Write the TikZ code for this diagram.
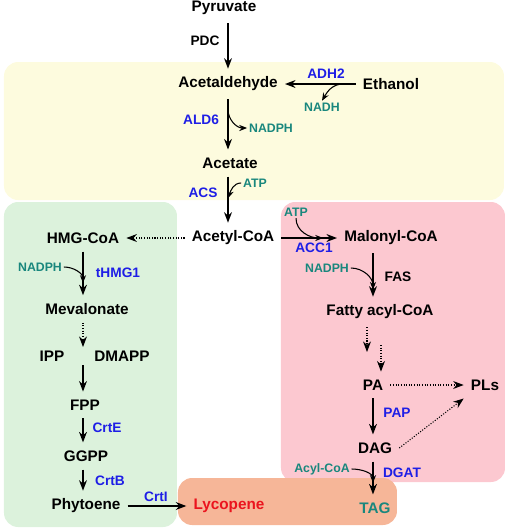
\documentclass[tikz,border=0pt]{standalone}
\usepackage{fontspec}
\setmainfont{Liberation Sans}
\usetikzlibrary{arrows.meta}
\definecolor{enzblue}{RGB}{30,30,230}
\definecolor{cofteal}{RGB}{25,135,125}
\definecolor{boxyellow}{RGB}{253,251,222}
\definecolor{boxgreen}{RGB}{220,242,220}
\definecolor{boxpink}{RGB}{252,200,208}
\definecolor{boxorange}{RGB}{246,182,152}
\definecolor{lycred}{RGB}{235,20,30}

\begin{document}
\begin{tikzpicture}[x=0.02cm,y=-0.02cm,line width=0.3pt,
  met/.style={font=\bfseries\fontsize{8.7}{10}\selectfont,inner xsep=4pt,inner ysep=4.5pt},
  enz/.style={font=\bfseries\fontsize{7.8}{9}\selectfont,text=enzblue,inner sep=1pt},
  cof/.style={font=\bfseries\fontsize{7}{8}\selectfont,text=cofteal,inner sep=1pt},
  rxn/.style={-{Stealth[length=6pt,width=4.5pt]},line width=0.8pt},
  side/.style={-{Stealth[length=4.5pt,width=3.5pt]},line width=0.6pt},
  multi/.style={rxn,line width=0.6pt,dash pattern=on 0.6pt off 0.9pt}]
\useasboundingbox (0,0) rectangle (508,529);
\fill[boxyellow,rounded corners=8] (4,62) rectangle (504,200);
\fill[boxgreen,rounded corners=8] (4,202) rectangle (177,527);
\fill[boxpink,rounded corners=8] (281,202) rectangle (505,482);
\fill[boxorange,rounded corners=8] (178,478) rectangle (397,525);
\node[met] (pyr) at (224,8) {Pyruvate};
\node[met] (acald) at (228,84) {Acetaldehyde};
\node[met] (eth) at (391,84) {Ethanol};
\node[met] (acet) at (230,163) {Acetate};
\node[met] (accoa) at (233,238) {Acetyl-CoA};
\node[met] (hmg) at (83,238) {HMG-CoA};
\node[met] (meva) at (87,309) {Mevalonate};
\node[met] (ipp) at (52,356) {IPP};
\node[met] (dmapp) at (122,356) {DMAPP};
\node[met] (fpp) at (85,405) {FPP};
\node[met] (ggpp) at (86,456) {GGPP};
\node[met] (phy) at (86,506) {Phytoene};
\node[met,text=lycred] (lyc) at (229,506) {Lycopene};
\node[met] (malo) at (391,238) {Malonyl-CoA};
\node[met] (fatty) at (380,312) {Fatty acyl-CoA};
\node[met] (pa) at (373,385) {PA};
\node[met] (pls) at (485,385) {PLs};
\node[met] (dag) at (375,448) {DAG};
\node[met,text=cofteal] (tag) at (375,508) {TAG};
\node[enz,text=black] (pdc) at (205,41) {PDC};
\node[enz] (adh2) at (326,74) {ADH2};
\node[enz] (ald6) at (201,120) {ALD6};
\node[enz] (acs) at (203,193) {ACS};
\node[enz] (thmg) at (118,273) {tHMG1};
\node[enz] (crte) at (107,428) {CrtE};
\node[enz] (crtb) at (110,481) {CrtB};
\node[enz] (crti) at (156,497) {CrtI};
\node[enz] (acc1) at (314,248) {ACC1};
\node[enz,text=black] (fas) at (398,277) {FAS};
\node[enz] (pap) at (397,413) {PAP};
\node[enz] (dgat) at (402,473) {DGAT};
\node[cof] (nadh) at (322,107) {NADH};
\node[cof] (nadph1) at (271,128) {NADPH};
\node[cof] (atp1) at (255,183) {ATP};
\node[cof] (nadph2) at (40,267) {NADPH};
\node[cof] (atp2) at (296,212) {ATP};
\node[cof] (nadph3) at (327,268) {NADPH};
\node[cof] (acyl) at (322,469) {Acyl-CoA};
\coordinate (ipptop) at (83,347);
\coordinate (ippbot) at (83,365);
\coordinate (dota) at (367,352);
\coordinate (dotb) at (381,345);
\draw[rxn] (pyr.south -| acald) -- (acald.north);
\draw[rxn] (eth.west) -- coordinate[pos=0.18] (nadhsrc) (acald.east);
\draw[rxn] (acald.south) -- coordinate[pos=0.2] (ald6src) (acet.north -| acald);
\draw[rxn] (acet.south -| acald) -- coordinate[pos=0.47] (acstgt) (accoa.north -| acald);
\draw[side] (nadhsrc) to[out=180,in=60] (nadh.north);
\draw[side] (ald6src) to[out=-90,in=180] (nadph1.west);
\draw[side] (atp1.west) to[out=180,in=70] (acstgt);
\draw[multi] (accoa.west) -- (hmg.east);
\draw[rxn] (hmg.south) -- coordinate[pos=0.72] (hmgtgt) (meva.north -| hmg);
\draw[side] (nadph2.east) to[out=0,in=90] (hmgtgt);
\draw[multi] (meva.south -| hmg) -- (ipptop);
\draw[rxn] (ippbot) -- (fpp.north -| hmg);
\draw[rxn] (fpp.south -| hmg) -- (ggpp.north -| hmg);
\draw[rxn] (ggpp.south -| hmg) -- (phy.north -| hmg);
\draw[rxn] (phy.east) -- (lyc.west);
\draw[rxn] (accoa.east) -- coordinate[pos=0.75] (acctgt) (malo.west);
\draw[side] (atp2.south) to[out=-90,in=180] (acctgt);
\draw[rxn] (malo.south -| pa) -- coordinate[pos=0.84] (fastgt) (fatty.north -| pa);
\draw[side] (nadph3.east) to[out=0,in=90] (fastgt);
\draw[multi] (fatty.south -| dota) -- (dota);
\draw[multi] (dotb) -- (pa.north -| dotb);
\draw[multi] (pa.east) -- (pls.west);
\draw[rxn] (pa.south) -- (dag.north -| pa);
\draw[multi] (dag.east) -- (pls.south west);
\draw[rxn] (dag.south -| pa) -- coordinate[pos=0.65] (dgattgt) (tag.north -| pa);
\draw[side] (acyl.east) to[out=0,in=90] (dgattgt);
\end{tikzpicture}
\end{document}
